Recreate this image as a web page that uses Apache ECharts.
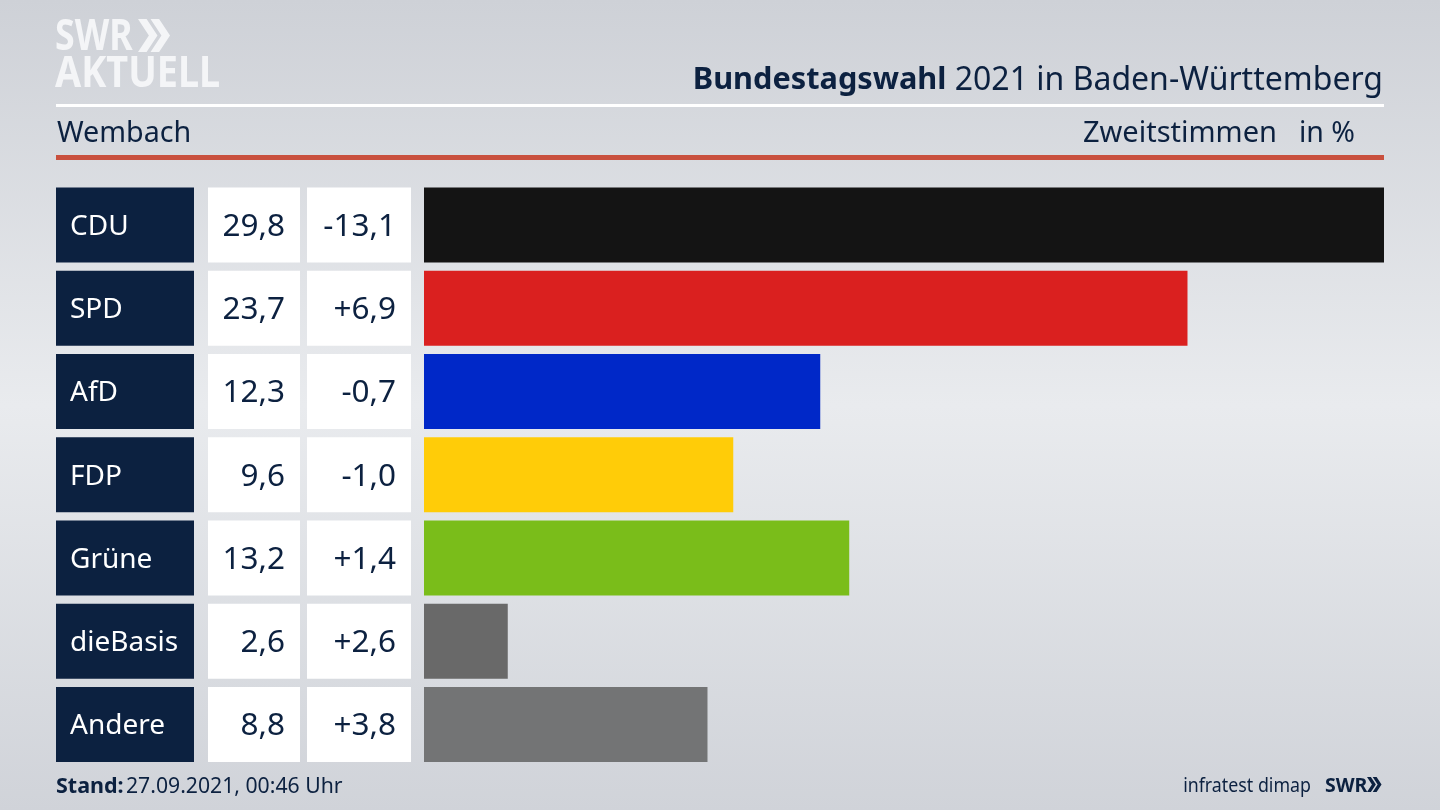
<!DOCTYPE html>
<html>
<head>
<meta charset="utf-8">
<title>Bundestagswahl 2021 in Baden-Württemberg</title>
<script src="https://cdn.jsdelivr.net/npm/echarts@6/dist/echarts.min.js"></script>
<style>
    html, body { margin: 0; padding: 0; }
    #chart { width: 1440px; height: 810px; }
</style>
</head>
<body>
<div id="chart"></div>
<script>
// Chart data
var parties = ['CDU', 'SPD', 'AfD', 'FDP', 'Grüne', 'dieBasis', 'Andere'];
var shares = [29.8, 23.7, 12.3, 9.6, 13.2, 2.6, 8.8];
var changes = ['-13,1', '+6,9', '-0,7', '-1,0', '+1,4', '+2,6', '+3,8'];
var partyColors = ['#141414', '#da201f', '#0028c8', '#ffcc08', '#7abd1a', '#696969', '#737475'];

var NAVY = '#0c2140';
var FONT = '"Noto Sans", sans-serif';
var TOP = 183.4, BOTTOM = 43.9;

var chart = echarts.init(document.getElementById('chart'));

function shareLabel(v) {
    return v.toFixed(1).replace('.', ',');
}

// One table column: a full-width bar per row, carrying its text as label
function columnSeries(index, texts, color, textColor, position, distance) {
    return {
        type: 'bar',
        xAxisIndex: index,
        yAxisIndex: index,
        barWidth: 75,
        silent: true,
        animation: false,
        itemStyle: { color: color },
        label: {
            show: true,
            position: position,
            distance: distance,
            offset: [0, 2],
            color: textColor,
            fontFamily: FONT,
            fontSize: index === 0 ? 28 : 31.5,
            formatter: function(p) { return texts[p.dataIndex]; }
        },
        data: texts.map(function() { return 1; })
    };
}

function makeGrid(left, width) {
    return { left: left, width: width, top: TOP, bottom: BOTTOM };
}

function makeX(index, max) {
    return { type: 'value', gridIndex: index, min: 0, max: max, show: false };
}

function makeY(index) {
    return { type: 'category', gridIndex: index, data: parties, inverse: true, show: false };
}

function chevrons(x, y, h, color) {
    var w = h * 0.33, gap = h * 0.38, t = h * 0.26;
    return [0, 1].map(function(i) {
        var x0 = x + i * gap;
        return {
            type: 'polygon',
            silent: true,
            shape: { points: [
                [x0, y], [x0 + t, y], [x0 + t + w, y + h / 2],
                [x0 + t, y + h], [x0, y + h], [x0 + w, y + h / 2]
            ] },
            style: { fill: color }
        };
    });
}

// base is the text baseline, zrender puts it about 0.8em below y
function text(x, base, str, size, color, weight, align, scaleX) {
    return {
        type: 'text',
        silent: true,
        x: x,
        y: base - size * 0.8,
        scaleX: scaleX || 1,
        style: {
            text: str,
            fill: color,
            fontFamily: FONT,
            fontSize: size,
            fontWeight: weight || 'normal',
            align: align || 'left'
        }
    };
}

var graphics = [
    // Header rules
    { type: 'rect', silent: true, shape: { x: 56, y: 104, width: 1328, height: 3 }, style: { fill: '#ffffff' } },
    { type: 'rect', silent: true, shape: { x: 56, y: 155, width: 1328, height: 5 }, style: { fill: '#c9503e' } },

    // Logo
    text(55, 51, 'SWR', 43, '#f4f5f7', 'bold', 'left', 0.83),
    text(55, 88, 'AKTUELL', 43, '#f4f5f7', 'bold', 'left', 0.88),

    // Header text
    {
        type: 'text',
        silent: true,
        x: 1383,
        y: 90 - 32 * 0.8,
        style: {
            text: '{b|Bundestagswahl}{r| 2021 in Baden-Württemberg}',
            fontFamily: FONT,
            align: 'right',
            rich: {
                b: { fontWeight: 'bold', fontFamily: FONT, fontSize: 30.7, fill: NAVY },
                r: { fontFamily: FONT, fontSize: 32, fill: NAVY }
            }
        }
    },
    text(57, 142, 'Wembach', 28.7, NAVY),
    text(1277, 142, 'Zweitstimmen', 29, NAVY, 'normal', 'right'),
    text(1355, 142, 'in %', 28.5, NAVY, 'normal', 'right'),

    // Footer
    text(56, 793, 'Stand:', 21.5, NAVY, 'bold'),
    text(126, 793, '27.09.2021, 00:46 Uhr', 21.2, NAVY),
    text(1311, 792, 'infratest dimap', 20, NAVY, 'normal', 'right', 0.89),
    text(1325, 792, 'SWR', 19.5, NAVY, 'bold')
].concat(chevrons(138, 19, 33, '#f4f5f7'), chevrons(1367, 777, 15, NAVY));

chart.setOption({
    backgroundColor: new echarts.graphic.LinearGradient(0, 0, 0, 1, [
        { offset: 0, color: '#ced1d7' },
        { offset: 0.5, color: '#e9ebee' },
        { offset: 1, color: '#d0d3d9' }
    ]),
    animation: false,
    grid: [makeGrid(56, 138), makeGrid(208, 92), makeGrid(307, 104), makeGrid(424, 960)],
    xAxis: [makeX(0, 1), makeX(1, 1), makeX(2, 1), makeX(3, 29.8)],
    yAxis: [makeY(0), makeY(1), makeY(2), makeY(3)],
    series: [
        columnSeries(0, parties, NAVY, '#ffffff', 'insideLeft', 14),
        columnSeries(1, shares.map(shareLabel), '#ffffff', NAVY, 'insideRight', 15),
        columnSeries(2, changes, '#ffffff', NAVY, 'insideRight', 15),
        {
            type: 'bar',
            xAxisIndex: 3,
            yAxisIndex: 3,
            barWidth: 75,
            silent: true,
            data: shares.map(function(v, i) {
                return { value: v, itemStyle: { color: partyColors[i] } };
            })
        }
    ],
    graphic: { elements: graphics }
});
</script>
</body>
</html>
